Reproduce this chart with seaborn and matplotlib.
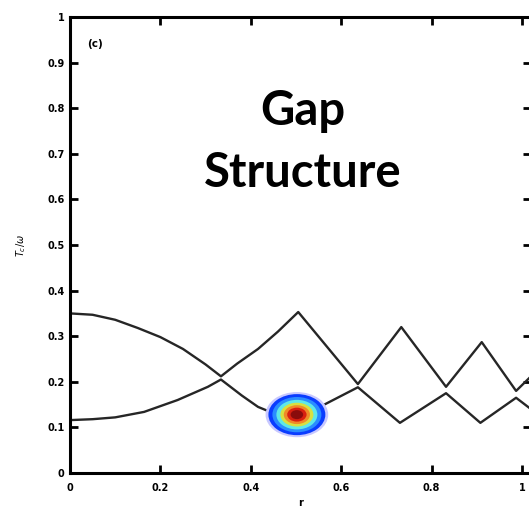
import numpy as np
import pandas as pd
import matplotlib
matplotlib.use("Agg")
import matplotlib.pyplot as plt
import seaborn as sns
from matplotlib.patches import Ellipse

# ---- data ----
upper_r = [0.0, 0.05, 0.10, 0.15, 0.20, 0.25, 0.30, 0.334, 0.37, 0.416, 0.46, 0.505,
           0.637, 0.733, 0.832, 0.911, 0.987, 1.02]
upper_e = [0.350, 0.347, 0.336, 0.318, 0.298, 0.272, 0.238, 0.212, 0.240, 0.272, 0.310, 0.353,
           0.195, 0.320, 0.189, 0.287, 0.180, 0.212]
lower_r = [0.0, 0.05, 0.10, 0.164, 0.238, 0.305, 0.334, 0.38, 0.416, 0.46, 0.50,
           0.637, 0.73, 0.832, 0.908, 0.987, 1.02]
lower_e = [0.116, 0.118, 0.122, 0.134, 0.160, 0.189, 0.205, 0.170, 0.145, 0.127, 0.118,
           0.188, 0.110, 0.175, 0.110, 0.165, 0.140]
spot_r = 0.502
spot_e = 0.128

x_ticks = [0, 0.2, 0.4, 0.6, 0.8, 1]
x_tick_labels = ["0", "0.2", "0.4", "0.6", "0.8", "1"]
y_ticks = [0, 0.1, 0.2, 0.3, 0.4, 0.5, 0.6, 0.7, 0.8, 0.9, 1]
y_tick_labels = ["0", "0.1", "0.2", "0.3", "0.4", "0.5", "0.6", "0.7", "0.8", "0.9", "1"]

panel_label = "(c)"
title_lines = ["Gap", "Structure"]
x_label = "r"
y_label = r"$T_c/\omega$"

# ---- figure ----
sns.set_style("ticks")
plt.rcParams['font.family'] = ['DejaVu Sans']
plt.rcParams.update({"text.color": "black", "axes.edgecolor": "black",
                     "axes.labelcolor": "black", "xtick.color": "black",
                     "ytick.color": "black"})

fig = plt.figure(figsize=(5.29, 5.11), dpi=100)
ax = fig.add_axes([70 / 529, 38 / 511, 461 / 529, 456 / 511])

df = pd.concat([
    pd.DataFrame({"r": upper_r, "E": upper_e, "band": "upper"}),
    pd.DataFrame({"r": lower_r, "E": lower_e, "band": "lower"}),
])
sns.lineplot(data=df, x="r", y="E", units="band", estimator=None, sort=False,
             color="#262626", lw=1.7, ax=ax, legend=False)

# heat spot (jet-coloured concentric layers)
spot_w, spot_h = 0.126, 0.090
layers = [(1.10, "#c8c8ff"), (1.0, "#0a3cff"), (0.86, "#2a8cff"), (0.72, "#5ee8e8"),
          (0.58, "#d8e040"), (0.46, "#f08a28"), (0.34, "#d82010"), (0.22, "#8a0c0c")]
for s, c in layers:
    ax.add_patch(Ellipse((spot_r, spot_e), spot_w * s, spot_h * s, facecolor=c,
                         edgecolor="none", zorder=5))

ax.set_xlim(0, 1.02)
ax.set_ylim(0, 1)
ax.set_xticks(x_ticks)
ax.set_xticklabels(x_tick_labels)
ax.set_yticks(y_ticks)
ax.set_yticklabels(y_tick_labels)
ax.tick_params(direction="in", length=6, width=2, top=True, right=True,
               labelsize=7, pad=4, colors="black")
ax.tick_params(axis="x", pad=7)
for lab in ax.get_xticklabels() + ax.get_yticklabels():
    lab.set_fontweight("bold")
for sp in ax.spines.values():
    sp.set_visible(True)
    sp.set_linewidth(2.2)
    sp.set_color("black")
ax.set_xlabel(x_label, fontsize=7, fontweight="bold", labelpad=4, color="black")
ax.set_ylabel(y_label, fontsize=7, labelpad=14, color="black")

ax.text(0.055, 0.94, panel_label, fontsize=7.5, fontweight="bold", ha="center", va="center",
        color="black")
ax.text(0.515, 0.763, title_lines[0], fontsize=34, fontweight="bold", family=["Lato", "DejaVu Sans"],
        ha="center", va="baseline", color="black")
ax.text(0.515, 0.627, title_lines[1], fontsize=34, fontweight="bold", family=["Lato", "DejaVu Sans"],
        ha="center", va="baseline", color="black")

fig.savefig("out.png", dpi=100)
